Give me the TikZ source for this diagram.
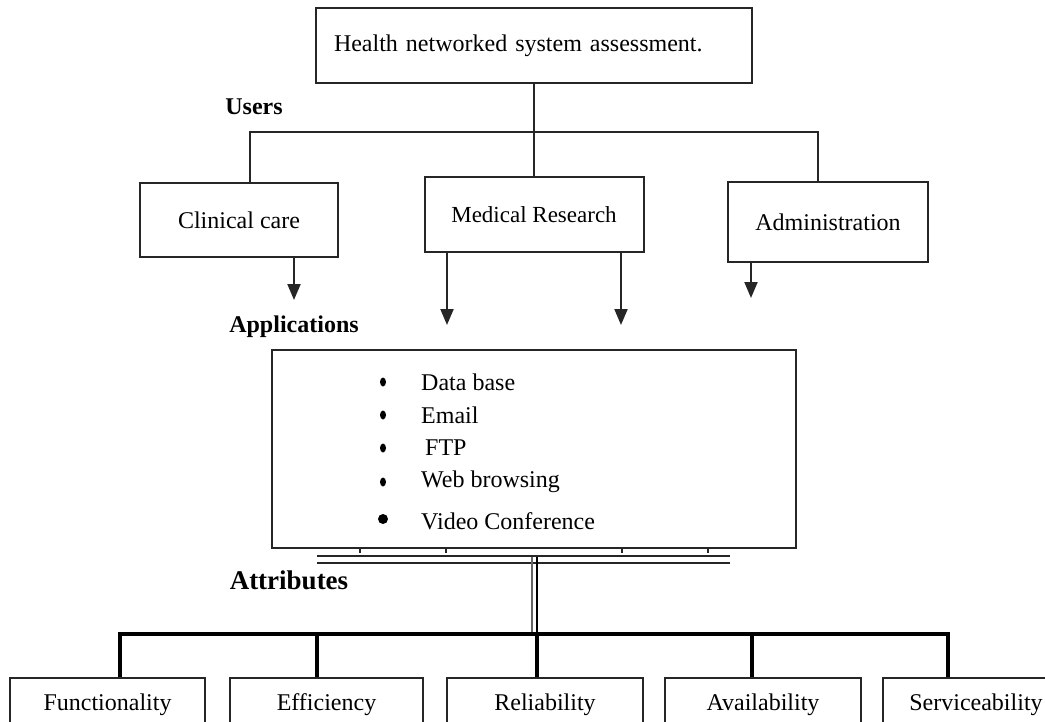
\documentclass[tikz,border=0pt]{standalone}
\usepackage{fontspec}
\setmainfont{Liberation Serif}
\usetikzlibrary{arrows.meta}
\begin{document}
\begin{tikzpicture}[x=1pt,y=-1pt,
  txt/.style={font=\fontsize{24}{28}\selectfont},
  box/.style={draw=black!85, line width=2pt, inner sep=0pt, txt},
  lbl/.style={font=\bfseries\fontsize{24}{28}\selectfont, inner sep=0pt},
  conn/.style={draw=black!85, line width=2pt},
  arr/.style={conn, -{Triangle[width=13pt,length=16pt]}},
  bus/.style={draw=black, line width=4.5pt},
  drop/.style={draw=black, line width=3.5pt},
]
\clip (0,0) rectangle (1045,721);
\fill[white] (0,0) rectangle (1045,721);

% top box
\node[box, minimum width=436pt, minimum height=75pt, text width=400pt, align=left, inner xsep=18pt] (top) at (534,45.5) {Health networked system assessment.};

% users
\node[lbl] (users) at (254,107) {Users};
\node[box, minimum width=198pt, minimum height=74pt] (clin) at (239,220) {Clinical care};
\node[box, minimum width=219pt, minimum height=75pt, font=\fontsize{23}{27}\selectfont] (med) at (534,214.5) {Medical Research};
\node[box, minimum width=200pt, minimum height=80pt] (adm) at (828,222) {Administration};

\draw[conn] (top.south) -- (med.north);
\draw[conn] ([xshift=11pt]clin.north) -- ++(0,-50) -| ([xshift=-10pt]adm.north);

% arrows
\coordinate (a1) at (294,300);
\coordinate (a2) at (447,325);
\coordinate (a3) at (621,325);
\coordinate (a4) at (751,298);
\draw[arr] (clin.south -| a1) -- (a1);
\draw[arr] (med.south -| a2) -- (a2);
\draw[arr] (med.south -| a3) -- (a3);
\draw[arr] (adm.south -| a4) -- (a4);

% applications
\node[lbl] (apps) at (294,327) {Applications};
\node[box, minimum width=524pt, minimum height=198pt] (app) at (534,449) {};
\foreach \i/\t/\y in {1/Data base/382, 2/Email/415, 3/{\hspace{4pt}FTP}/448, 4/Web browsing/482}{
  \node[txt, anchor=west, inner sep=0pt] (it\i) at (421,\y) {\t};
  \fill[black] (383,\y) ellipse (3pt and 4.5pt);
}
\node[txt, anchor=west, inner sep=0pt] (it5) at (421,521) {Video Conference};
\fill[black] (383,519) circle (5pt);

% ticks at bottom of application box
\foreach \x in {360,446,622,708}
  \draw[conn, line width=1.5pt] (\x,548) -- (\x,553);

% double lines
\coordinate (dl1) at (317,556); \coordinate (dr1) at (730,556);
\coordinate (dl2) at (317,563); \coordinate (dr2) at (730,563);
\draw[conn, line width=2pt] (dl1) -- (dr1);
\draw[conn, line width=2pt] (dl2) -- (dr2);
\coordinate (vt1) at (532,557); \coordinate (vb1) at (532,634);
\coordinate (vt2) at (537,557); \coordinate (vb2) at (537,634);
\draw[black!60, line width=1.5pt] (vt1) -- (vb1);
\draw[black, line width=2.5pt] (vt2) -- (vb2);

% attributes
\node[lbl, font=\bfseries\fontsize{27}{31}\selectfont] (attr) at (289,580) {Attributes};

\coordinate (busl) at (118,634);
\coordinate (busr) at (950,634);
\draw[bus] (busl) -- (busr);

\foreach \n/\c/\w/\t/\x in {f/107.5/195/Functionality/120, e/326.5/193/Efficiency/317, r/545/196/Reliability/537, av/763/196/Availability/752, s/976/186/Serviceability/948}{
  \node[box, minimum width=\w pt, minimum height=54pt] (\n) at (\c,705) {\t};
  \coordinate (bx\n) at (\x,634);
  \draw[drop] (bx\n) -- (bx\n |- \n.north);
}
\end{tikzpicture}
\end{document}
